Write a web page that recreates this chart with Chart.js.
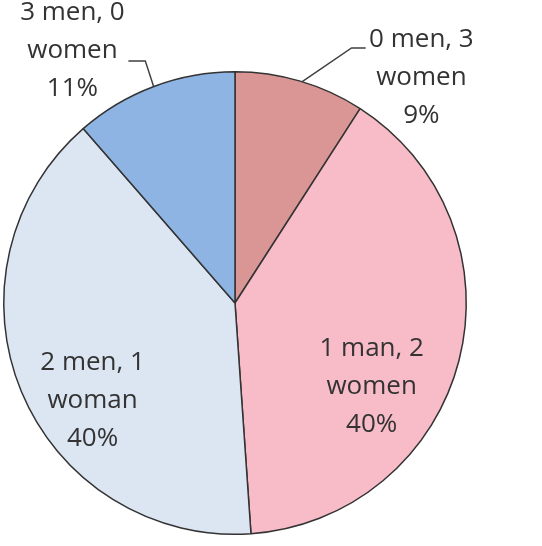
<!DOCTYPE html>
<html>
<head>
<meta charset="utf-8">
<script src="https://cdn.jsdelivr.net/npm/chart.js@4.4.1/dist/chart.umd.min.js"></script>
<style>
  html, body { margin: 0; padding: 0; background: #fff; }
  #wrap { width: 542px; height: 546px; position: relative; }
</style>
</head>
<body>
<div id="wrap"><canvas id="pie"></canvas></div>
<script>
// Données du graphique
const categories = ['0 men, 3 women', '1 man, 2 women', '2 men, 1 woman', '3 men, 0 women'];
const labelLines = [
  ['0 men, 3', 'women'],
  ['1 man, 2', 'women'],
  ['2 men, 1', 'woman'],
  ['3 men, 0', 'women'],
];
const shares     = [9.1, 39.8, 39.7, 11.4];
const pctLabels  = ['9%', '40%', '40%', '11%'];

// Couleurs des parts
const sliceColors = ['#D99694', '#F8BBC8', '#DCE6F2', '#8EB4E3'];

// Placement des étiquettes, en unités de rayon depuis le centre
// leader : angle (degrés, sens horaire depuis le haut) + coude + fin
const labelPlace = [
  { dx: 0.806,  dy: -0.975, leader: { angle: 16.9,  elbow: [0.504, -1.103], end: [0.565, -1.103] } },
  { dx: 0.591,  dy: 0.362 },
  { dx: -0.616, dy: 0.423 },
  { dx: -0.703, dy: -1.09,  leader: { angle: 339.4, elbow: [-0.388, -1.047], end: [-0.461, -1.047] } },
];

const labelPlugin = {
  id: 'sliceLabels',
  afterDatasetsDraw(chart) {
    const ctx  = chart.ctx;
    const meta = chart.getDatasetMeta(0);
    const { x: cx, y: cy, outerRadius: r } = meta.data[0];
    const lineH = 38;

    ctx.save();
    meta.data.forEach((arc, i) => {
      const p = labelPlace[i];

      // Trait de rappel pour les étiquettes extérieures
      if (p.leader) {
        const a = (p.leader.angle - 90) * Math.PI / 180;
        ctx.beginPath();
        ctx.moveTo(cx + r * Math.cos(a), cy + r * Math.sin(a));
        ctx.lineTo(cx + p.leader.elbow[0] * r, cy + p.leader.elbow[1] * r);
        ctx.lineTo(cx + p.leader.end[0] * r, cy + p.leader.end[1] * r);
        ctx.strokeStyle = '#404040';
        ctx.lineWidth = 1.5;
        ctx.stroke();
      }

      const lines = [...labelLines[i], pctLabels[i]];
      const tx = cx + p.dx * r;
      const ty = cy + p.dy * r;
      ctx.font = '26px "Open Sans", sans-serif';
      ctx.fillStyle = '#333333';
      ctx.textAlign = 'center';
      ctx.textBaseline = 'middle';
      lines.forEach((t, k) => {
        ctx.fillText(t, tx, ty + (k - 1) * lineH);
      });
    });
    ctx.restore();
  },
};

new Chart(document.getElementById('pie'), {
  type: 'pie',
  data: {
    labels: categories,
    datasets: [{
      data:            shares,
      backgroundColor: sliceColors,
      borderColor:     '#333333',
      borderWidth:     1.5,
    }],
  },
  options: {
    responsive:          true,
    maintainAspectRatio: false,
    animation:           false,
    layout: { padding: { left: 3, right: 75, top: 71, bottom: 11 } },
    plugins: {
      legend:  { display: false },
      tooltip: { enabled: false },
    },
  },
  plugins: [labelPlugin],
});
</script>
</body>
</html>
